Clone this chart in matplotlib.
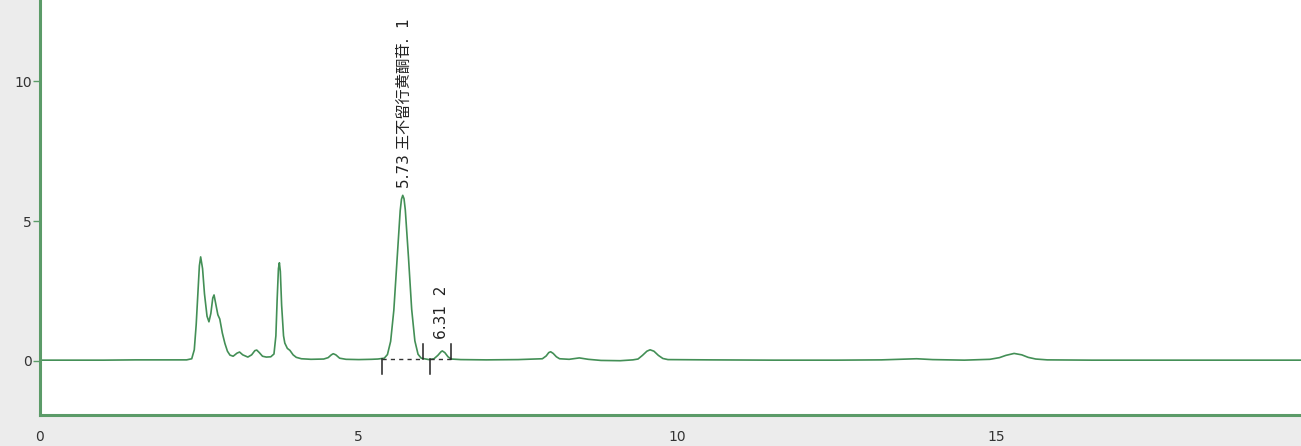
import numpy as np
import matplotlib.pyplot as plt

# Хроматограмма: время (мин) и сигнал
t = [0.0, 0.5, 1.0, 1.5, 2.0, 2.2, 2.30, 2.38, 2.42, 2.45, 2.48, 2.50, 2.52, 2.55,
     2.58, 2.62, 2.65, 2.68, 2.71, 2.73, 2.76, 2.79, 2.82, 2.86, 2.90, 2.94, 2.98,
     3.03, 3.09, 3.13, 3.18, 3.26, 3.32, 3.37, 3.40, 3.44, 3.49, 3.55, 3.62, 3.67,
     3.70, 3.72, 3.74, 3.755, 3.77, 3.79, 3.82, 3.84, 3.88, 3.92, 3.97, 4.02, 4.10,
     4.25, 4.45, 4.52, 4.57, 4.60, 4.64, 4.70, 4.80, 5.00, 5.20, 5.30, 5.40, 5.45,
     5.50, 5.55, 5.60, 5.65, 5.67, 5.69, 5.71, 5.73, 5.78, 5.83, 5.88, 5.93, 5.98,
     6.05, 6.10, 6.18, 6.24, 6.29, 6.31, 6.35, 6.40, 6.45, 6.60, 7.00, 7.50, 7.88,
     7.94, 7.98, 8.01, 8.05, 8.10, 8.15, 8.30, 8.46, 8.60, 8.80, 9.10, 9.30, 9.38,
     9.45, 9.52, 9.57, 9.63, 9.70, 9.77, 9.85, 10.5, 11.5, 12.5, 13.2, 13.6, 13.75,
     14.0, 14.5, 14.90, 15.05, 15.15, 15.28, 15.40, 15.50, 15.62, 15.8, 16.5, 17.5,
     18.5, 19.8]
signal = [0.03, 0.03, 0.03, 0.04, 0.04, 0.04, 0.04, 0.08, 0.40, 1.30, 2.60, 3.40, 3.72, 3.30,
          2.40, 1.60, 1.40, 1.70, 2.25, 2.36, 2.00, 1.65, 1.50, 1.00, 0.63, 0.35, 0.21,
          0.17, 0.28, 0.32, 0.22, 0.14, 0.22, 0.37, 0.39, 0.30, 0.17, 0.14, 0.15, 0.25,
          0.90, 2.20, 3.30, 3.51, 3.20, 2.00, 0.90, 0.64, 0.45, 0.38, 0.22, 0.13, 0.08,
          0.06, 0.07, 0.12, 0.22, 0.26, 0.22, 0.10, 0.06, 0.05, 0.06, 0.07, 0.10, 0.23,
          0.70, 1.81, 3.62, 5.37, 5.78, 5.92, 5.80, 5.40, 3.70, 1.85, 0.72, 0.24, 0.10,
          0.07, 0.05, 0.08, 0.20, 0.33, 0.36, 0.30, 0.15, 0.07, 0.05, 0.04, 0.05, 0.08,
          0.18, 0.30, 0.33, 0.27, 0.15, 0.08, 0.06, 0.11, 0.06, 0.02, 0.01, 0.04, 0.07,
          0.20, 0.35, 0.40, 0.35, 0.20, 0.09, 0.05, 0.04, 0.03, 0.03, 0.04, 0.07, 0.08,
          0.05, 0.03, 0.06, 0.12, 0.20, 0.27, 0.22, 0.13, 0.07, 0.04, 0.03, 0.03,
          0.03, 0.03]

# Интегрированные пики
peak_start = [5.37, 6.11]
peak_end = [6.00, 6.44]
peak_rt = [5.69, 6.27]
peak_top = [5.92, 0.36]
peak_labels = ["5.73 王不留行黄酮苷.  1", "6.31  2"]
baseline_level = 0.07

green = '#438f56'

fig = plt.figure(figsize=(13.01, 4.46), dpi=100, facecolor='#ececec')
ax = fig.add_axes([40 / 1301, 31 / 446, 1 - 40 / 1301, 1 - 31 / 446])
ax.set_facecolor('white')

ax.plot(t, signal, color=green, lw=1.2)

tick_len = 0.55
for s, e in zip(peak_start, peak_end):
    ax.plot([s, e], [baseline_level, baseline_level], color='#333333', lw=1,
            linestyle=(0, (3, 3)))
    ax.plot([s, s], [baseline_level, baseline_level - tick_len], color='#222222', lw=1.1)
    ax.plot([e, e], [baseline_level, baseline_level + tick_len], color='#222222', lw=1.1)

label_offset = [0.25, 0.42]
for x, y, lab, off in zip(peak_rt, peak_top, peak_labels, label_offset):
    ax.text(x + 0.03, y + off, lab, rotation=90, ha='center', va='bottom',
            fontsize=11, color='#222222',
            family=['DejaVu Sans', 'Noto Sans CJK SC'])

ax.set_xlim(0, 19.78)
ax.set_ylim(-1.93, 12.9)
ax.set_xticks([0, 5, 10, 15])
ax.set_yticks([0, 5, 10])
ax.tick_params(axis='x', length=0, pad=11, labelsize=10, labelcolor='#333333')
ax.tick_params(axis='y', length=5, width=1, color='#5b9b68', pad=1,
               labelsize=10, labelcolor='#333333')

for side in ['top', 'right']:
    ax.spines[side].set_visible(False)
for side in ['left', 'bottom']:
    ax.spines[side].set_color('#5b9b68')
    ax.spines[side].set_linewidth(2.2)

plt.savefig('out.png', dpi=100, facecolor=fig.get_facecolor())
